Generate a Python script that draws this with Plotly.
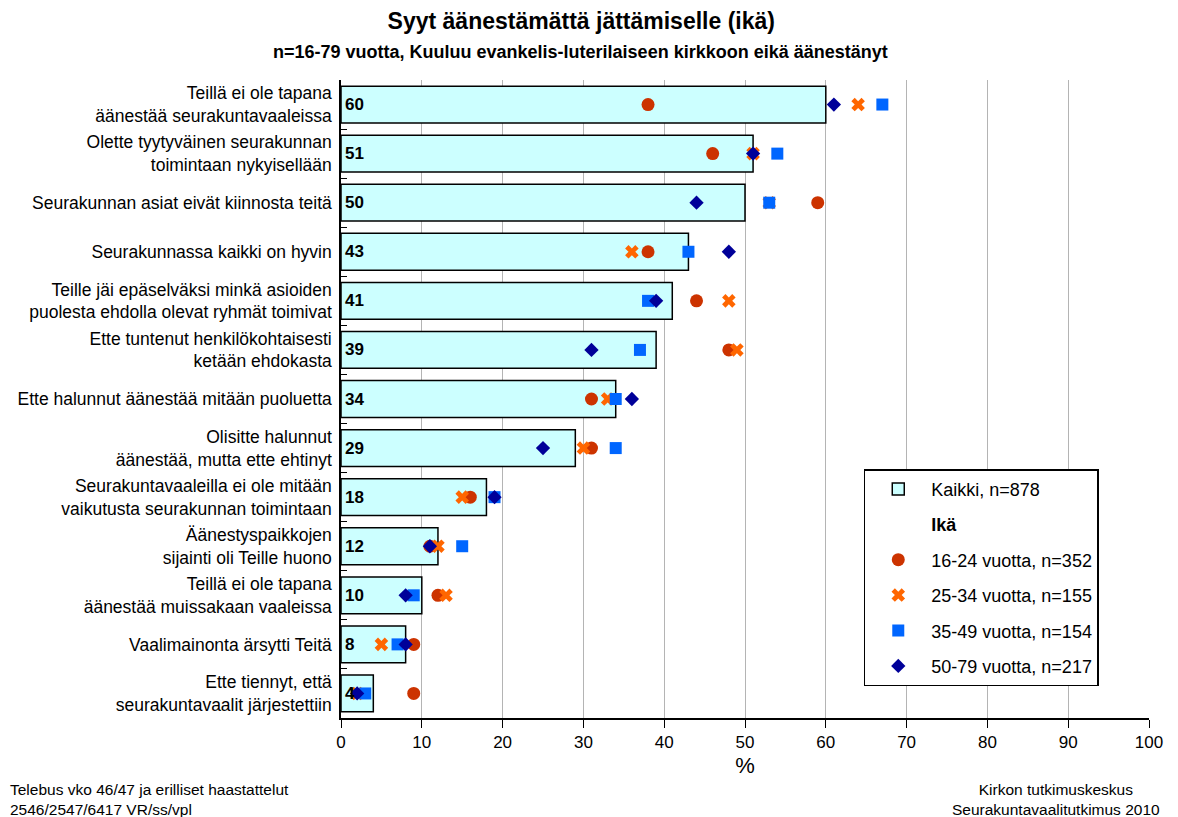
import plotly.graph_objects as go

# categories, top to bottom
categories = [
    "Teillä ei ole tapana<br>äänestää seurakuntavaaleissa",
    "Olette tyytyväinen seurakunnan<br>toimintaan nykyisellään",
    "Seurakunnan asiat eivät kiinnosta teitä",
    "Seurakunnassa kaikki on hyvin",
    "Teille jäi epäselväksi minkä asioiden<br>puolesta ehdolla olevat ryhmät toimivat",
    "Ette tuntenut henkilökohtaisesti<br>ketään ehdokasta",
    "Ette halunnut äänestää mitään puoluetta",
    "Olisitte halunnut<br>äänestää, mutta ette ehtinyt",
    "Seurakuntavaaleilla ei ole mitään<br>vaikutusta seurakunnan toimintaan",
    "Äänestyspaikkojen<br>sijainti oli Teille huono",
    "Teillä ei ole tapana<br>äänestää muissakaan vaaleissa",
    "Vaalimainonta ärsytti Teitä",
    "Ette tiennyt, että<br>seurakuntavaalit järjestettiin",
]

kaikki = [60, 51, 50, 43, 41, 39, 34, 29, 18, 12, 10, 8, 4]
age_16_24 = [38, 46, 59, 38, 44, 48, 31, 31, 16, 11, 12, 9, 9]
age_25_34 = [64, 51, 53, 36, 48, 49, 33, 30, 15, 12, 13, 5, 2]
age_35_49 = [67, 54, 53, 43, 38, 37, 34, 34, 19, 15, 9, 7, 3]
age_50_79 = [61, 51, 44, 48, 39, 31, 36, 25, 19, 11, 8, 8, 2]

x_ticks = [0, 10, 20, 30, 40, 50, 60, 70, 80, 90, 100]

FONT = "Liberation Sans, Arial, sans-serif"

fig = go.Figure()

fig.add_trace(go.Bar(
    y=categories, x=kaikki, orientation="h",
    name="Kaikki, n=878",
    marker=dict(color="#CCFFFF", line=dict(color="black", width=1.5)),
    width=0.75,
    legendgroup="a",
))

# empty entry used as the "Ikä" header in the legend
fig.add_trace(go.Scatter(
    x=[None], y=[None], mode="markers",
    name="<b>Ikä</b>",
    marker=dict(color="rgba(0,0,0,0)", size=1),
    legendgroup="b",
))

series = [
    ("16-24 vuotta, n=352", age_16_24, "circle", "#CC3300", 13),
    ("25-34 vuotta, n=155", age_25_34, "x", "#FF6600", 12),
    ("35-49 vuotta, n=154", age_35_49, "square", "#0066FF", 12),
    ("50-79 vuotta, n=217", age_50_79, "diamond", "#000099", 11),
]
for i, (name, vals, sym, col, sz) in enumerate(series):
    fig.add_trace(go.Scatter(
        x=vals, y=categories, mode="markers", name=name,
        marker=dict(symbol=sym, color=col, size=sz, line=dict(width=0)),
        legendgroup=f"s{i}",
    ))

# bold value labels at bar base
for cat, v in zip(categories, kaikki):
    fig.add_annotation(
        x=0, y=cat, text=f"<b>{v}</b>", showarrow=False,
        xanchor="left", xshift=2, font=dict(size=17, color="black", family=FONT),
    )

# page body has an 8px margin, figure is sized/shifted to compensate
fig.update_layout(
    width=1170, height=809,
    margin=dict(l=333, r=29, t=72, b=99),
    paper_bgcolor="white", plot_bgcolor="white",
    font=dict(family=FONT, size=18, color="black"),
    title=dict(
        text="<b>Syyt äänestämättä jättämiselle (ikä)</b>",
        x=0.49, xanchor="center", y=0.984, yanchor="middle",
        font=dict(size=23),
    ),
    showlegend=True,
    legend=dict(
        x=0.647, y=0.39, xanchor="left", yanchor="top",
        bordercolor="black", borderwidth=1.5, bgcolor="white",
        traceorder="grouped", tracegroupgap=9,
        font=dict(size=18),
        itemwidth=56,
    ),
    xaxis=dict(
        range=[0, 100], tickvals=x_ticks, showgrid=True,
        gridcolor="#B4B4B4", gridwidth=1,
        showline=True, linecolor="black", linewidth=1.5,
        ticks="outside", ticklen=8, tickcolor="black",
        title=dict(text="%", standoff=6), zeroline=False,
        tickfont=dict(size=17), automargin=False,
    ),
    yaxis=dict(
        range=[12.5, -0.5], showline=True, linecolor="black", linewidth=1.5,
        ticks="inside", tickson="boundaries", ticklen=6, tickcolor="black",
        showgrid=False, tickfont=dict(size=17.5), ticklabelstandoff=4,
        automargin=False,
    ),
)

fig.add_annotation(
    text="<b>n=16-79 vuotta, Kuuluu evankelis-luterilaiseen kirkkoon eikä äänestänyt</b>",
    xref="paper", yref="paper", x=0.296, y=1, yshift=28, showarrow=False,
    font=dict(size=18), xanchor="center", yanchor="middle",
)
fig.add_annotation(
    text="Telebus vko 46/47 ja erilliset haastattelut<br>2546/2547/6417 VR/ss/vpl",
    xref="paper", yref="paper", x=0, xshift=-333, y=0, yshift=-61,
    showarrow=False, xanchor="left", yanchor="top", align="left",
    font=dict(size=15.5),
)
fig.add_annotation(
    text="Kirkon tutkimuskeskus<br>Seurakuntavaalitutkimus 2010",
    xref="paper", yref="paper", x=1, xshift=13, y=0, yshift=-61,
    showarrow=False, xanchor="right", yanchor="top", align="center",
    font=dict(size=15.5),
)

fig.write_html("out.html")
